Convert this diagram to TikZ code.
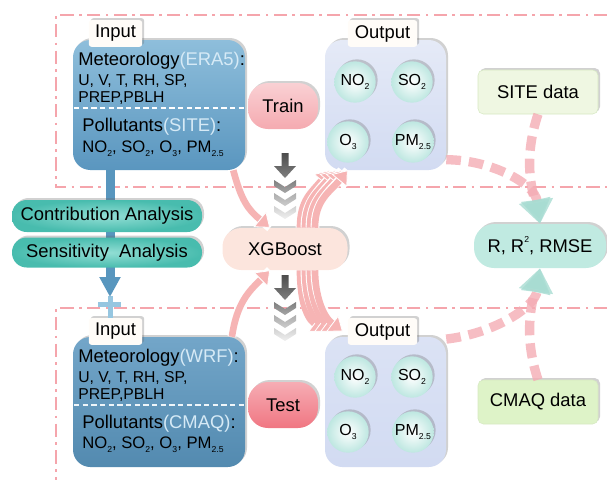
\documentclass[tikz,border=0pt]{standalone}
\usepackage{fontspec}
\setmainfont{Liberation Sans}
\usetikzlibrary{arrows.meta,shadows,shapes.geometric}

\definecolor{frameRed}{RGB}{245,165,172}
\definecolor{inBlue}{RGB}{90,150,191}
\definecolor{inBlueLt}{RGB}{142,190,219}
\definecolor{inText}{RGB}{214,234,246}
\definecolor{outLav}{RGB}{229,234,247}
\definecolor{outLavDk}{RGB}{210,219,242}
\definecolor{ballTeal}{RGB}{190,231,225}
\definecolor{trainPink}{RGB}{245,170,176}
\definecolor{testPink}{RGB}{240,118,130}
\definecolor{xgbPeach}{RGB}{252,229,221}
\definecolor{anaTeal}{RGB}{72,188,174}
\definecolor{anaTealLt}{RGB}{146,222,212}
\definecolor{siteGreen}{RGB}{239,247,226}
\definecolor{cmaqGreen}{RGB}{222,243,200}
\definecolor{greenEdge}{RGB}{214,232,194}
\definecolor{metricTeal}{RGB}{192,234,225}
\definecolor{flowPink}{RGB}{246,180,180}
\definecolor{dashPink}{RGB}{244,172,180}
\definecolor{headTeal}{RGB}{168,220,210}
\definecolor{tabWhite}{RGB}{255,252,248}
\definecolor{barBlue}{RGB}{88,150,190}
\definecolor{barBlueLt}{RGB}{150,198,224}

\newcommand{\lsub}[1]{\raisebox{-0.55ex}{\fontsize{6.5}{7}\selectfont #1}}
\newcommand{\lsup}[1]{\raisebox{1.0ex}{\fontsize{6.5}{7}\selectfont #1}}

\tikzset{
  frame/.style={draw=frameRed, line width=1.6pt, dash pattern=on 10pt off 4pt on 2pt off 4pt},
  softShadow/.style={drop shadow={shadow xshift=1.5pt, shadow yshift=1.5pt, opacity=0.3, fill=black!60}},
  inBox/.style={rounded corners=13pt, minimum width=129pt, minimum height=97.5pt, top color=inBlueLt, bottom color=inBlue, softShadow},
  outBox/.style={rounded corners=13pt, minimum width=90.75pt, minimum height=97.5pt, top color=outLav, bottom color=outLavDk, softShadow},
  tabBox/.style={fill=tabWhite, rounded corners=2pt, minimum height=20pt, inner sep=0pt, font=\fontsize{13.8}{16}\selectfont, softShadow},
  ball/.style={circle, minimum size=31pt, inner sep=0pt, inner color=white, outer color=ballTeal, font=\fontsize{12}{14}\selectfont, softShadow},
  metTxt/.style={anchor=base west, inner sep=0pt, font=\fontsize{13.8}{16}\selectfont},
  varTxt/.style={anchor=base west, inner sep=0pt, font=\fontsize{11.8}{14}\selectfont},
  pill/.style={rounded corners=15pt, minimum width=52.5pt, minimum height=34.5pt, font=\fontsize{13.8}{16}\selectfont, softShadow},
  anaPill/.style={rounded corners=11pt, minimum width=142.5pt, minimum height=24pt, inner sep=0pt, inner color=anaTealLt, outer color=anaTeal, font=\fontsize{13.8}{16}\selectfont, softShadow},
  dataBox/.style={draw=greenEdge, rounded corners=4pt, minimum width=90pt, minimum height=33pt, font=\fontsize{13.8}{16}\selectfont, softShadow},
  flowArrow/.style={draw=flowPink, line width=5pt, preaction={draw=white, line width=6.6pt, -},
    -{Triangle[length=10pt,width=15pt,fill=flowPink,color=white,line width=0.6pt]}},
  dashArrow/.style={draw=dashPink, line width=7pt, dash pattern=on 11pt off 6pt, draw opacity=0.8,
    -{Triangle[length=18pt,width=23pt,fill=headTeal,color=headTeal]}},
  blueBar/.style={draw=barBlue, line width=6.75pt, -{Triangle[length=15pt,width=15pt]}}
}

\begin{document}
\begin{tikzpicture}[x=0.75pt,y=0.75pt,yscale=-1,xscale=1]
%set diagram left start at 0, and has height of 480
\useasboundingbox (0,0) rectangle (607,480);

%Frames: train (top) and test (bottom)
\draw [frame] (607,15) -- (56,15) -- (56,187) -- (607,187);
\draw [frame] (607,308) -- (56,308) -- (56,480);

%Input boxes
\node [inBox] (inA) at (159,105) {};
\node [inBox, top color=inBlue!85!white, bottom color=inBlue!92!black] (inB) at (159,402) {};
\node [tabBox, minimum width=40pt] (tabInA) at (115.5,33.5) {Input};
\node [tabBox, minimum width=40pt] (tabInB) at (115.5,331.5) {Input};

%Input texts (train)
\node [metTxt] (metA) at (78,65) {Meteorology\textcolor{inText}{(ERA5)}:};
\node [varTxt] (varA1) at (78,85) {U, V, T, RH, SP,};
\node [varTxt] (varA2) at (78,102) {PREP,PBLH};
\draw [white, line width=0.9pt, dash pattern=on 4pt off 2.5pt] (74,108) -- (244,108);
\node [metTxt] (polA) at (82,131) {Pollutants\textcolor{inText}{(SITE)}:};
\node [varTxt, font=\fontsize{12.5}{14}\selectfont] (specA) at (82,152) {NO\lsub{2}, SO\lsub{2}, O\lsub{3}, PM\lsub{2.5}};

%Input texts (test)
\node [metTxt] (metB) at (78,362) {Meteorology\textcolor{inText}{(WRF)}:};
\node [varTxt] (varB1) at (78,382) {U, V, T, RH, SP,};
\node [varTxt] (varB2) at (78,399) {PREP,PBLH};
\draw [white!90!inBlue, line width=0.9pt, dash pattern=on 4pt off 2.5pt] (74,405) -- (244,405);
\node [metTxt] (polB) at (82,428) {Pollutants\textcolor{inText}{(CMAQ)}:};
\node [varTxt, font=\fontsize{12.5}{14}\selectfont] (specB) at (82,448) {NO\lsub{2}, SO\lsub{2}, O\lsub{3}, PM\lsub{2.5}};

%Output boxes
\node [outBox] (outA) at (385.5,105) {};
\node [outBox, top color=outLavDk!80!white, bottom color=outLavDk] (outB) at (385.5,402) {};
\node [tabBox, minimum width=52pt] (tabOutA) at (382.5,33.5) {Output};
\node [tabBox, minimum width=52pt] (tabOutB) at (382.5,331.5) {Output};

%Output species
\node [ball] (no2A) at (355,82) {NO\lsub{2}};
\node [ball] (so2A) at (412,82) {SO\lsub{2}};
\node [ball] (o3A) at (348,142) {O\lsub{3}};
\node [ball] (pmA) at (413,142) {PM\lsub{2.5}};
\node [ball] (no2B) at (355,377) {NO\lsub{2}};
\node [ball] (so2B) at (412,377) {SO\lsub{2}};
\node [ball] (o3B) at (348,432) {O\lsub{3}};
\node [ball] (pmB) at (413,432) {PM\lsub{2.5}};

%Train / Test / XGBoost
\node [pill, top color=trainPink!55!white, bottom color=trainPink] (train) at (283,106) {Train};
\node [pill, top color=testPink!60!white, bottom color=testPink] (test) at (283,405) {Test};
\node [pill, fill=xgbPeach, minimum width=93.75pt, minimum height=31.5pt, rounded corners=14pt] (xgb) at (285,249) {XGBoost};

%Data and metrics
\node [dataBox, fill=siteGreen] (site) at (538,92) {SITE data};
\node [dataBox, fill=cmaqGreen] (cmaq) at (538,402) {CMAQ data};
\node [pill, fill=metricTeal, minimum width=99pt, minimum height=33pt] (rbox) at (540,246) {R, R\lsup{2}, RMSE};

%Blue bar from input (train) to input (test)
\coordinate (barTop) at (110,170);
\coordinate (barEnd) at (110,297);
\fill [barBlueLt] (107.5,296) rectangle (112.5,318);
\fill [barBlueLt] (98,302) rectangle (121,307);
\draw [blueBar] (barTop) -- (barEnd);

%Analysis pills
\node [anaPill] (contrib) at (107,216) {Contribution Analysis};
\node [anaPill, minimum height=22.5pt] (sens) at (107,252.5) {Sensitivity~ Analysis};

%Gray chevrons (top)
\shade [top color=black!70, bottom color=black!50] (281.5,153) -- (288.5,153) -- (288.5,166) -- (296,166) -- (285,178) -- (274,166) -- (281.5,166) -- cycle;
\shade [top color=black!50, bottom color=black!35] (274,180) -- (285,187) -- (296,180) -- (296,186) -- (285,193) -- (274,186) -- cycle;
\shade [top color=black!32, bottom color=black!20] (274,193) -- (285,200) -- (296,193) -- (296,199) -- (285,206) -- (274,199) -- cycle;
\shade [top color=black!18, bottom color=black!6] (274,206) -- (285,213) -- (296,206) -- (296,212) -- (285,219) -- (274,212) -- cycle;
%Gray chevrons (bottom)
\shade [top color=black!70, bottom color=black!50] (281.5,275) -- (288.5,275) -- (288.5,288) -- (296,288) -- (285,300) -- (274,288) -- (281.5,288) -- cycle;
\shade [top color=black!50, bottom color=black!35] (274,302) -- (285,309) -- (296,302) -- (296,308) -- (285,315) -- (274,308) -- cycle;
\shade [top color=black!32, bottom color=black!20] (274,315) -- (285,322) -- (296,315) -- (296,321) -- (285,328) -- (274,321) -- cycle;
\shade [top color=black!18, bottom color=black!6] (274,328) -- (285,335) -- (296,328) -- (296,334) -- (285,341) -- (274,334) -- cycle;

%Flow arrows into and out of XGBoost
\draw [flowArrow] ([xshift=-9pt]inA.south east) .. controls +(8,30) and +(-22,-18) .. (xgb.125);
\draw [flowArrow] ([xshift=-10pt]inB.north east) .. controls +(5,-35) and +(-20,20) .. (xgb.235);

\draw [flowArrow] ([xshift=11.25pt]xgb.north) .. controls +(0,-28) and +(-18,22) .. ([xshift=3.75pt]outA.south west);
\draw [flowArrow] ([xshift=15pt]xgb.north) .. controls +(0,-28) and +(-18,22) .. ([xshift=8.25pt]outA.south west);
\draw [flowArrow] ([xshift=18.75pt]xgb.north) .. controls +(0,-28) and +(-18,22) .. ([xshift=12.75pt]outA.south west);
\draw [flowArrow] ([xshift=22.5pt]xgb.north) .. controls +(0,-28) and +(-18,22) .. ([xshift=17.25pt]outA.south west);

\draw [flowArrow] ([xshift=11.25pt]xgb.south) .. controls +(0,25) and +(-20,-15) .. ([xshift=-17pt]tabOutB.west);
\draw [flowArrow] ([xshift=15pt]xgb.south) .. controls +(0,25) and +(-20,-15) .. ([xshift=-12.5pt]tabOutB.west);
\draw [flowArrow] ([xshift=18.75pt]xgb.south) .. controls +(0,25) and +(-20,-15) .. ([xshift=-8pt]tabOutB.west);
\draw [flowArrow] ([xshift=22.5pt]xgb.south) .. controls +(0,25) and +(-20,-15) .. ([xshift=-3.5pt]tabOutB.west);

%Dashed arrows to metrics
\draw [dashArrow] (outA.-42) .. controls +(45,0) and +(-5,-40) .. (rbox.north);
\draw [dashArrow] (site.south) .. controls +(-15,45) and +(-8,-35) .. (rbox.north);
\draw [dashArrow] (outB.46) .. controls +(45,-5) and +(-5,40) .. (rbox.south);
\draw [dashArrow] (cmaq.north) .. controls +(-15,-45) and +(-8,35) .. (rbox.south);

\end{tikzpicture}
\end{document}
